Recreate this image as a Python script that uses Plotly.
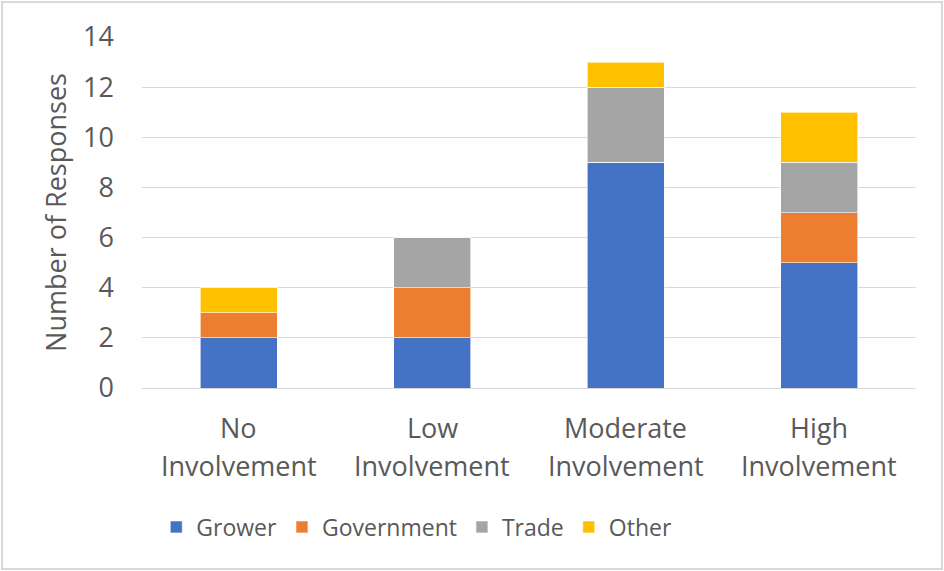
import plotly.graph_objects as go

categories = ["No Involvement", "Low Involvement", "Moderate Involvement", "High Involvement"]
label_top = ["No", "Low", "Moderate", "High"]
label_bottom = ["Involvement", "Involvement", "Involvement", "Involvement"]
grower = [2, 2, 9, 5]
government = [1, 2, 0, 2]
trade = [0, 2, 3, 2]
other = [1, 0, 1, 2]

series = [
    ("Grower", grower, "#4472C4"),
    ("Government", government, "#ED7D31"),
    ("Trade", trade, "#A5A5A5"),
    ("Other", other, "#FFC000"),
]

FONT = "Open Sans"
TXT = "#595959"

fig = go.Figure()
for name, vals, color in series:
    fig.add_trace(go.Bar(
        name=name, x=categories, y=vals,
        marker=dict(color=color, line=dict(color="rgba(255,255,255,0.6)", width=1)),
    ))

fig.update_layout(
    barmode="stack",
    bargap=0.6,
    width=944, height=571,
    margin=dict(l=142, r=28, t=37, b=183),
    paper_bgcolor="white", plot_bgcolor="white",
    font=dict(family=FONT, color=TXT, size=23),
    legend=dict(
        orientation="h", x=0.355, xanchor="center", y=-0.396, yanchor="middle",
        font=dict(size=23, color=TXT), itemwidth=30, traceorder="normal",
    ),
    showlegend=True,
)
fig.update_xaxes(showticklabels=False, showline=False, ticks="")
fig.update_yaxes(
    range=[0, 14], dtick=2, showgrid=True, gridcolor="#D9D9D9", gridwidth=1,
    zeroline=True, zerolinecolor="#D9D9D9", zerolinewidth=1,
    tickfont=dict(size=27, color=TXT), ticklabelstandoff=27,
    title=dict(text="Number of Responses", font=dict(size=27, color=TXT), standoff=8),
)

# two-line category labels under each bar
for cat, top, bottom in zip(categories, label_top, label_bottom):
    fig.add_annotation(x=cat, xref="x", y=-39/351, yref="paper", text=top,
                       showarrow=False, yanchor="middle",
                       font=dict(size=27, color=TXT))
    fig.add_annotation(x=cat, xref="x", y=-77/351, yref="paper", text=bottom,
                       showarrow=False, yanchor="middle",
                       font=dict(size=27, color=TXT))

# chart frame
fig.add_shape(type="rect", xref="x domain", yref="y domain",
              x0=-140/774, x1=1 + 26/774, y0=-181/351, y1=1 + 35/351,
              line=dict(color="#D9D9D9", width=2), layer="below")

fig.write_html("out.html")
